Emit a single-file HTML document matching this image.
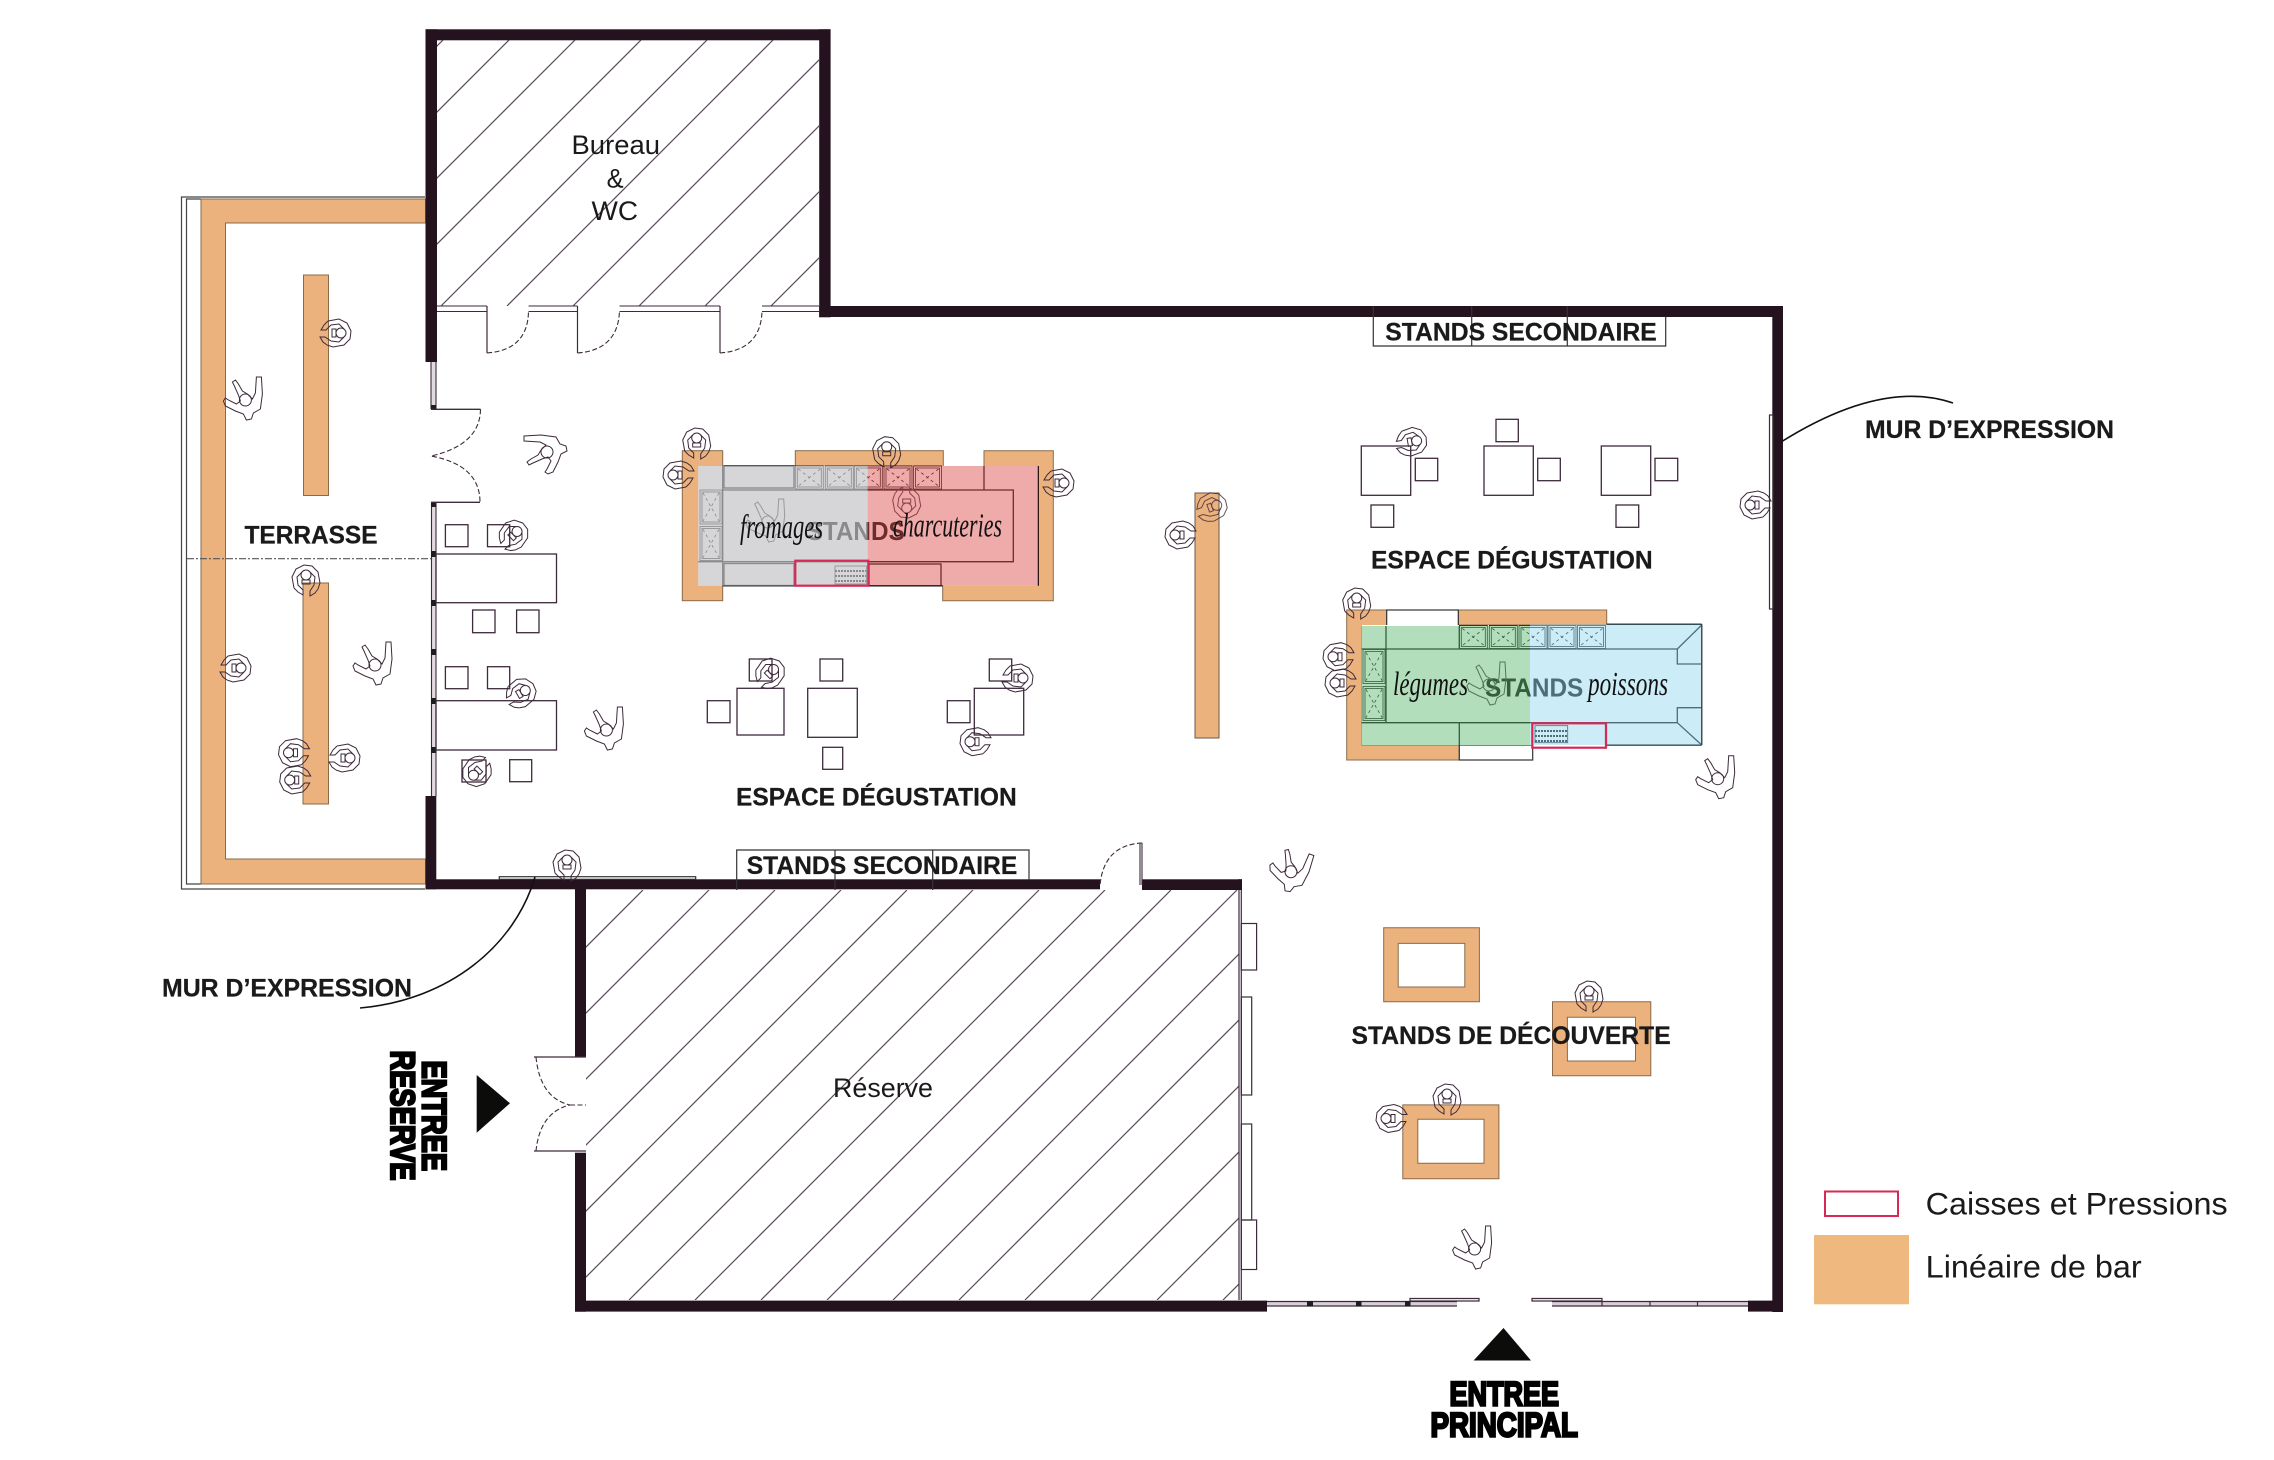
<!DOCTYPE html>
<html><head><meta charset="utf-8"><title>Plan</title>
<style>
html,body{margin:0;padding:0;background:#fff}
svg{display:block}
text{font-family:"Liberation Sans",sans-serif}
.b{font-weight:bold;fill:#1a1a1a;stroke:#1a1a1a;stroke-width:.25;font-size:25px}
.r{fill:#1a1a1a;font-size:27px}
.s{font-family:"Liberation Serif",serif;font-style:italic;fill:#111;font-size:34px}
.st{fill:#000;stroke:#000;stroke-width:2.4;font-weight:bold;font-size:34px}
.o{fill:#ecb27e;stroke:#8a6a48;stroke-width:1}
.t{fill:none;stroke:#3d2a3b;stroke-width:1.3}
.p{fill:none;stroke:#3d2a3b;stroke-width:1}
</style></head><body>
<svg width="2274" height="1460" viewBox="0 0 2274 1460" xmlns="http://www.w3.org/2000/svg">
<defs>
<clipPath id="cb"><rect x="437" y="40" width="382" height="266"/></clipPath>
<clipPath id="cr"><rect x="586" y="890" width="653" height="410"/></clipPath>
<g id="A" class="p"><path d="M-8,-12L3,-14L11,-10L15,-2L14,6L8,12L-3,14L-9,12"/><path d="M-8,-12L-12,-8L-15,-3L-10,-3L-5,-8L3,-9L8,-4"/><path d="M-9,12L-13,9L-16,4L-11,4L-5,8L3,9L8,4"/><circle cx="5" cy="0" r="5"/><path d="M-4,-4H0V4H-4Z"/></g>
<g id="B" class="p"><path d="M-21,3L-19,0L-16,2L-8,6L-4,3L-6,-3L-10,-12L-12,-16L-9,-18L-6,-14L-2,-7L3,-4L8,1L11,-5L12,-21L17,-21L18,-4L16,11L9,15L7,21L2,22L-1,16L-9,13L-19,8Z"/><circle cx="1" cy="2" r="6"/></g>
<g id="ap" fill="none" stroke="#000" stroke-width=".8"><rect x="0" y="0" width="28" height="23"/><rect x="2" y="2" width="24" height="19"/><path d="M3,3L25,20M25,3L3,20" stroke-dasharray="3 3"/></g>
<g id="apv" fill="none" stroke="#000" stroke-width=".8"><rect x="0" y="0" width="22" height="34"/><rect x="2" y="2" width="18" height="30"/><path d="M3,3L19,31M19,3L3,31" stroke-dasharray="3 3"/></g>
</defs>
<rect width="2274" height="1460" fill="#fff"/>

<!-- hatching -->
<path clip-path="url(#cb)" stroke="#5a4a5a" stroke-width="1.2" fill="none" d="M443 40L177 306M509 40L243 306M575 40L309 306M641 40L375 306M707 40L441 306M773 40L507 306M839 40L573 306M905 40L639 306M971 40L705 306M1037 40L771 306"/>
<path clip-path="url(#cr)" stroke="#5a4a5a" stroke-width="1.2" fill="none" d="M643 890L233 1300M709 890L299 1300M775 890L365 1300M841 890L431 1300M907 890L497 1300M973 890L563 1300M1039 890L629 1300M1105 890L695 1300M1171 890L761 1300M1237 890L827 1300M1303 890L893 1300M1369 890L959 1300M1435 890L1025 1300M1501 890L1091 1300M1567 890L1157 1300M1633 890L1223 1300"/>

<!-- terrasse -->
<path d="M425 197H181.5V889H425" fill="none" stroke="#444" stroke-width="1.2"/>
<path d="M201 199H186.5V884H201" fill="none" stroke="#444" stroke-width="1.2"/>
<path class="o" d="M201 199H425.5V223H225.5V859H425.5V884H201Z"/>
<rect class="o" x="303.5" y="275" width="25" height="220.5"/>
<rect class="o" x="303" y="583" width="25.5" height="221"/>
<path d="M187 558.7H431" stroke="#555" stroke-width="1.2" stroke-dasharray="7 2 2 2" fill="none"/>

<!-- glazing left -->
<rect x="431" y="362" width="5.3" height="47" fill="#e2dae1"/><rect x="431" y="502" width="5.3" height="294" fill="#e2dae1"/>
<path d="M431 362V409M436 362V409M431.5 502V796M436 502V796" stroke="#3d2a3b" stroke-width="1.1" fill="none"/>
<g fill="#1d1d1d"><rect x="431" y="405" width="5" height="5"/><rect x="431" y="502" width="5" height="5"/><rect x="431" y="551" width="5" height="6"/><rect x="431" y="600" width="5" height="6"/><rect x="431" y="649" width="5" height="6"/><rect x="431" y="698" width="5" height="6"/><rect x="431" y="747" width="5" height="6"/></g>
<path d="M431 409.3H480.5M431 502.3H480" stroke="#3d2a3b" stroke-width="1.3" fill="none"/>
<path d="M480.5 409.3Q480 445 431 456Q480 465 480 502.3" stroke="#3d2a3b" stroke-width="1.1" stroke-dasharray="5 2.5" fill="none"/>

<!-- bureau front -->
<path d="M437 306H487M437 311.5H487M528.5 306H577.5M528.5 311.5H577.5M619.5 306H720M619.5 311.5H720M762 306H819M762 311.5H819" stroke="#3d2a3b" stroke-width="1.1" fill="none"/>
<path d="M487 306V353M577.5 306V353M720 306V353" stroke="#3d2a3b" stroke-width="1.2" fill="none"/>
<path d="M487 353Q528 350 528.5 311M577.5 353Q618 350 619.5 311M720 353Q761 350 762 311" stroke="#3d2a3b" stroke-width="1.1" stroke-dasharray="5 2.5" fill="none"/>

<!-- side tables -->
<g class="t">
<rect x="436" y="554" width="120.5" height="48.7"/><rect x="436" y="700.7" width="120.5" height="49.3"/>
<rect x="445.4" y="524.7" width="22.6" height="22"/><rect x="487.5" y="524.7" width="22.2" height="22"/><rect x="472.6" y="610" width="22.4" height="22.7"/><rect x="516.6" y="610" width="22.4" height="22.7"/>
<rect x="445.4" y="666.7" width="22.6" height="22"/><rect x="487.5" y="666.7" width="22.2" height="22"/><rect x="509.7" y="759.7" width="22" height="22"/><rect x="462" y="760" width="24" height="22"/>
</g>

<!-- stand 1 -->
<rect class="o" x="682.3" y="450.7" width="40.4" height="150"/>
<rect class="o" x="795.3" y="450.7" width="148" height="20"/>
<path class="o" d="M984 450.7H1053.3V600.7H942.7V580H1013V490H984Z"/>
<rect x="698.3" y="466" width="340" height="119.7" fill="#fff"/>
<text x="806.7" y="540" font-weight="bold" style="font-size:26px;fill:#000" textLength="98" lengthAdjust="spacingAndGlyphs">STANDS</text>
<g fill="none" stroke="#000" stroke-width="1.3">
<path d="M722.7 466V585.7M722.7 490H1013.3V561.7H698.3M984 466V490"/>
<rect x="724" y="466" width="70" height="22"/><rect x="724" y="563.5" width="70" height="22"/><rect x="869" y="564" width="72" height="21.7"/>
<path d="M1038.3 466V585.7M722.7 585.7H942.7"/>
<rect x="835" y="566" width="31.5" height="18" stroke-width=".8"/><path d="M835 571H866M835 576H866M835 581H866" stroke-dasharray="2 1" stroke-width="2"/>
</g>
<use href="#ap" x="795.3" y="466"/><use href="#ap" x="825.3" y="466"/><use href="#ap" x="854.3" y="466"/><use href="#ap" x="884" y="466"/><use href="#ap" x="913.5" y="466"/>
<use href="#apv" x="700" y="490"/><use href="#apv" x="700" y="526.5"/>
<use href="#B" transform="translate(766.7,520) rotate(0)"/>
<use href="#A" transform="translate(906.7,503) rotate(90)"/>
<rect x="698.3" y="466" width="169.4" height="119.7" fill="rgb(197,197,200)" fill-opacity=".7"/>
<rect x="867.7" y="466" width="170.6" height="119.7" fill="rgb(224,86,86)" fill-opacity=".5"/>
<rect x="795.3" y="560.7" width="73" height="25" fill="none" stroke="#d42a55" stroke-width="2.2"/>
<text class="s" x="740" y="538" textLength="83" lengthAdjust="spacingAndGlyphs">fromages</text>
<text class="s" x="893" y="536.7" textLength="109" lengthAdjust="spacingAndGlyphs">charcuteries</text>

<!-- centre bar -->
<rect x="1195" y="493" width="24" height="245" fill="#ecb27e" stroke="#6a5a48" stroke-width="1"/>

<!-- stand 2 -->
<path class="o" d="M1346.7 610H1386.7V626H1361.7V745H1459.3V760H1346.7Z"/>
<rect class="o" x="1458.3" y="610" width="148.4" height="15"/>
<rect x="1386.7" y="610" width="71.6" height="16" fill="#fff" stroke="#333" stroke-width="1.2"/>
<rect x="1459.3" y="745" width="73.4" height="15" fill="#fff" stroke="#333" stroke-width="1.2"/>
<rect x="1361.7" y="625" width="340" height="120" fill="#fff"/>
<text x="1485" y="696.7" font-weight="bold" style="font-size:26px;fill:#000" textLength="98.3" lengthAdjust="spacingAndGlyphs">STANDS</text>
<g fill="none" stroke="#000" stroke-width="1.3">
<path d="M1386 626V723M1361.7 649H1677.3M1361.7 722.7H1677.3M1459.3 626V649M1459.3 722.7V745"/>
<path d="M1701.7 624.3V745M1677.3 649L1701.7 625M1677.3 649V664H1701.7M1677.3 722.7L1701.7 745M1677.3 722.7V707.7H1701.7"/>
<path d="M1606.7 624.3H1701.7M1606.7 745H1701.7"/>
<rect x="1535" y="725.7" width="32.7" height="17" stroke-width=".8"/><path d="M1535 731H1567M1535 736H1567M1535 741H1567" stroke-dasharray="2 1" stroke-width="2"/>
</g>
<use href="#ap" x="1459.3" y="625.5"/><use href="#ap" x="1489.3" y="625.5"/><use href="#ap" x="1519" y="625.5"/><use href="#ap" x="1548" y="625.5"/><use href="#ap" x="1577.5" y="625.5"/>
<use href="#apv" x="1363" y="649.5"/><use href="#apv" x="1363" y="686.5"/>
<use href="#B" transform="translate(1488,683)"/>
<rect x="1361.7" y="626" width="168.3" height="119" fill="rgb(104,190,120)" fill-opacity=".5"/>
<rect x="1530" y="624.3" width="171.7" height="120.7" fill="rgb(154,218,240)" fill-opacity=".5"/>
<rect x="1532.3" y="723.3" width="73.7" height="24.4" fill="none" stroke="#d42a55" stroke-width="2.2"/>
<text class="s" x="1393" y="695" textLength="75" lengthAdjust="spacingAndGlyphs">légumes</text>
<text class="s" x="1588" y="695" textLength="80" lengthAdjust="spacingAndGlyphs">poissons</text>

<!-- tables -->
<g class="t">
<rect x="737" y="688.3" width="47" height="46.7"/><rect x="807.7" y="688.3" width="49.6" height="49"/><rect x="974.3" y="688.3" width="49.4" height="46.7"/>
<rect x="707.3" y="700.7" width="22.7" height="22"/><rect x="749.3" y="659" width="22.7" height="22"/><rect x="820" y="659" width="22.7" height="22"/><rect x="822.7" y="747.3" width="20" height="22"/><rect x="947.3" y="700.7" width="22.7" height="22"/><rect x="989.3" y="659" width="22.4" height="22"/>
<rect x="1361.3" y="446" width="49.4" height="49.3"/><rect x="1484" y="446" width="49.3" height="49.3"/><rect x="1601.3" y="446" width="49.4" height="49.3"/>
<rect x="1415.3" y="458.3" width="22.4" height="22.4"/><rect x="1371" y="505" width="22.7" height="22.3"/><rect x="1496" y="419.3" width="22.3" height="22.4"/><rect x="1537.7" y="458.3" width="22.6" height="22.4"/><rect x="1655" y="458.3" width="22.7" height="22.4"/><rect x="1616" y="505" width="22.7" height="22.3"/>
</g>

<!-- decouverte -->
<path class="o" fill-rule="evenodd" d="M1383.7 927.8H1479.4V1001.8H1383.7ZM1398.2 943.4V987H1464.8V943.4Z"/>
<path class="o" fill-rule="evenodd" d="M1552.5 1001.8H1650.8V1075.7H1552.5ZM1567.4 1017.3V1061H1635.5V1017.3Z"/>
<path class="o" fill-rule="evenodd" d="M1402.8 1104.9H1498.9V1178.8H1402.8ZM1417.8 1119.3V1163.2H1484V1119.3Z"/>

<!-- reserve right shelves -->
<path d="M1239 879V1300M1241.3 879V1300" stroke="#3d2a3b" stroke-width="1.2" fill="none"/>
<g fill="none" stroke="#3d2a3b" stroke-width="1.2"><rect x="1241.3" y="923.5" width="15.3" height="46.5"/><rect x="1241.3" y="997" width="10.4" height="98"/><rect x="1241.3" y="1124" width="10.4" height="96"/><rect x="1241.3" y="1220" width="15.3" height="49.5"/></g>

<!-- facade -->
<rect x="1267" y="1301.5" width="190" height="4.5" fill="#d9cfd8"/><rect x="1552" y="1301.5" width="196" height="4.5" fill="#d9cfd8"/>
<path d="M1267 1301.5H1457M1267 1306H1457M1552 1301.5H1748M1552 1306H1748" stroke="#3d2a3b" stroke-width="1.2" fill="none"/>
<g fill="#1d1d1d"><rect x="1307" y="1301" width="6" height="5.5"/><rect x="1356" y="1301" width="5.5" height="5.5"/><rect x="1405" y="1301" width="5.5" height="5.5"/></g>
<path d="M1410 1298.5H1479V1301H1410ZM1532 1298.5H1602V1301H1532ZM1602 1300V1306M1650 1301V1306M1697.5 1301V1306" fill="none" stroke="#3d2a3b" stroke-width="1.2"/>

<!-- walls -->
<g fill="#24131f">
<rect x="425.5" y="29.3" width="405" height="11"/>
<rect x="425.5" y="29.3" width="11.5" height="332.7"/>
<rect x="819.2" y="29.3" width="11.4" height="288"/>
<rect x="819.2" y="306" width="963.8" height="11"/>
<rect x="1772.3" y="306" width="10.7" height="1006"/>
<rect x="425.5" y="796" width="10.8" height="93.3"/>
<rect x="425.5" y="879.3" width="674.5" height="10"/>
<rect x="1142" y="879.3" width="100" height="10.7"/>
<rect x="575" y="889" width="11" height="167.7"/>
<rect x="575" y="1152.7" width="11" height="159"/>
<rect x="575" y="1300.6" width="692" height="11"/>
<rect x="1748" y="1300.6" width="35" height="11"/>
</g>

<!-- side doors -->
<path d="M1142 842.7V885M1140 842.7V885" stroke="#3d2a3b" stroke-width="1.1" fill="none"/>
<path d="M1142 843Q1104 845 1100 885" stroke="#3d2a3b" stroke-width="1.1" stroke-dasharray="5 2.5" fill="none"/>
<path d="M534 1057H586M534 1151H586" stroke="#3d2a3b" stroke-width="1.3" fill="none"/>
<path d="M536 1057Q540 1098 570 1105Q540 1112 536 1151M570 1105H586" stroke="#3d2a3b" stroke-width="1.1" stroke-dasharray="5 2.5" fill="none"/>

<!-- stands secondaire boxes -->
<g fill="none" stroke="#333" stroke-width="1.2">
<path d="M1373.3 306V346H1665.7V317M1471.7 306V346M1567.3 306V346"/>
<path d="M736.7 890V850H1029V880M835 850V890M932.7 850V890"/>
<rect x="499.3" y="876.7" width="196.4" height="2.6"/>
<rect x="1769.5" y="415" width="3.5" height="194"/>
</g>

<!-- persons -->
<use href="#A" transform="translate(336,333)"/>
<use href="#B" transform="translate(244.4,398)"/>
<use href="#B" transform="translate(545,453) rotate(-90)"/>
<use href="#A" transform="translate(696.7,443) rotate(-90)"/>
<use href="#A" transform="translate(678,475) rotate(180)"/>
<use href="#A" transform="translate(886.7,451.7) rotate(-90)"/>
<use href="#A" transform="translate(1059,483)"/>
<use href="#A" transform="translate(770,673) rotate(-45)"/>
<use href="#A" transform="translate(1018,678)"/>
<use href="#A" transform="translate(975,741.7) rotate(180)"/>
<use href="#A" transform="translate(306,580) rotate(-90)"/>
<use href="#A" transform="translate(236,668)"/>
<use href="#A" transform="translate(293.5,752.7) rotate(180)"/>
<use href="#A" transform="translate(294.7,780) rotate(180)"/>
<use href="#A" transform="translate(345,758)"/>
<use href="#A" transform="translate(513.5,535) rotate(-45)"/>
<use href="#A" transform="translate(521,693) rotate(-30)"/>
<use href="#A" transform="translate(477,771.7) rotate(135)"/>
<use href="#B" transform="translate(374,663)"/>
<use href="#B" transform="translate(605.4,728)"/>
<use href="#A" transform="translate(567,865) rotate(-90)"/>
<use href="#A" transform="translate(1411.7,441.7) rotate(-10)"/>
<use href="#A" transform="translate(1755,505) rotate(180)"/>
<use href="#A" transform="translate(1356.7,603) rotate(-90)"/>
<use href="#A" transform="translate(1338,656.7) rotate(180)"/>
<use href="#A" transform="translate(1340,683) rotate(180)"/>
<use href="#B" transform="translate(1716.7,776.7)"/>
<use href="#A" transform="translate(1589,996) rotate(-90)"/>
<use href="#A" transform="translate(1447,1099) rotate(-90)"/>
<use href="#A" transform="translate(1391,1118.5) rotate(180)"/>
<use href="#B" transform="translate(1473.6,1247)"/>
<use href="#B" transform="translate(1290.7,869.5) rotate(20)"/>
<use href="#A" transform="translate(1212,507) rotate(-20)" opacity=".8"/>
<use href="#A" transform="translate(1180,535) rotate(180)"/>

<!-- leaders -->
<path d="M535 877C515 945 450 1000 360 1008" fill="none" stroke="#111" stroke-width="1.6"/>
<path d="M1781 442C1840 405 1900 385 1953 403" fill="none" stroke="#111" stroke-width="1.6"/>

<!-- arrows -->
<path d="M476.7 1075V1132.7L510 1103.3Z" fill="#0c0c0a"/>
<path d="M1503.5 1328L1473.6 1360.5H1531Z" fill="#0c0c0a"/>

<!-- labels -->
<text class="b" x="244.5" y="543.3" textLength="133" lengthAdjust="spacingAndGlyphs">TERRASSE</text>
<text class="r" x="571.5" y="154" textLength="88.5" lengthAdjust="spacingAndGlyphs">Bureau</text>
<text class="r" x="606.6" y="187.5" textLength="17" lengthAdjust="spacingAndGlyphs">&amp;</text>
<text class="r" x="591.5" y="220" textLength="46.5" lengthAdjust="spacingAndGlyphs">WC</text>
<text class="r" x="833" y="1097" textLength="100" lengthAdjust="spacingAndGlyphs">Réserve</text>
<text class="b" x="736" y="805.7" textLength="280.7" lengthAdjust="spacingAndGlyphs">ESPACE DÉGUSTATION</text>
<text class="b" x="1371" y="568.3" textLength="281.7" lengthAdjust="spacingAndGlyphs">ESPACE DÉGUSTATION</text>
<text class="b" x="1385.3" y="340.7" textLength="271.4" lengthAdjust="spacingAndGlyphs">STANDS SECONDAIRE</text>
<text class="b" x="746.7" y="874" textLength="270.6" lengthAdjust="spacingAndGlyphs">STANDS SECONDAIRE</text>
<text class="b" x="1351.5" y="1043.8" textLength="319.2" lengthAdjust="spacingAndGlyphs">STANDS DE DÉCOUVERTE</text>
<text class="b" x="162" y="996.7" textLength="250" lengthAdjust="spacingAndGlyphs">MUR D’EXPRESSION</text>
<text class="b" x="1865" y="438" textLength="249" lengthAdjust="spacingAndGlyphs">MUR D’EXPRESSION</text>
<text class="st" x="1449.5" y="1405.5" textLength="109.5" lengthAdjust="spacingAndGlyphs">ENTREE</text>
<text class="st" x="1430.5" y="1436.5" textLength="147.5" lengthAdjust="spacingAndGlyphs">PRINCIPAL</text>
<text class="st" transform="translate(422.7,1060.5) rotate(90)" textLength="110.5" lengthAdjust="spacingAndGlyphs">ENTREE</text>
<text class="st" transform="translate(391,1050.5) rotate(90)" textLength="130" lengthAdjust="spacingAndGlyphs">RESERVE</text>

<!-- legend -->
<rect x="1825" y="1191.5" width="73" height="24.5" fill="#fff" stroke="#d42a55" stroke-width="2"/>
<rect x="1814" y="1235" width="95" height="69.3" fill="#efb87f"/>
<text x="1925.7" y="1214.3" style="font-size:31.5px;fill:#1a1a1a" textLength="302" lengthAdjust="spacingAndGlyphs">Caisses et Pressions</text>
<text x="1925.7" y="1277.7" style="font-size:31.5px;fill:#1a1a1a" textLength="216" lengthAdjust="spacingAndGlyphs">Linéaire de bar</text>
</svg>
</body></html>
